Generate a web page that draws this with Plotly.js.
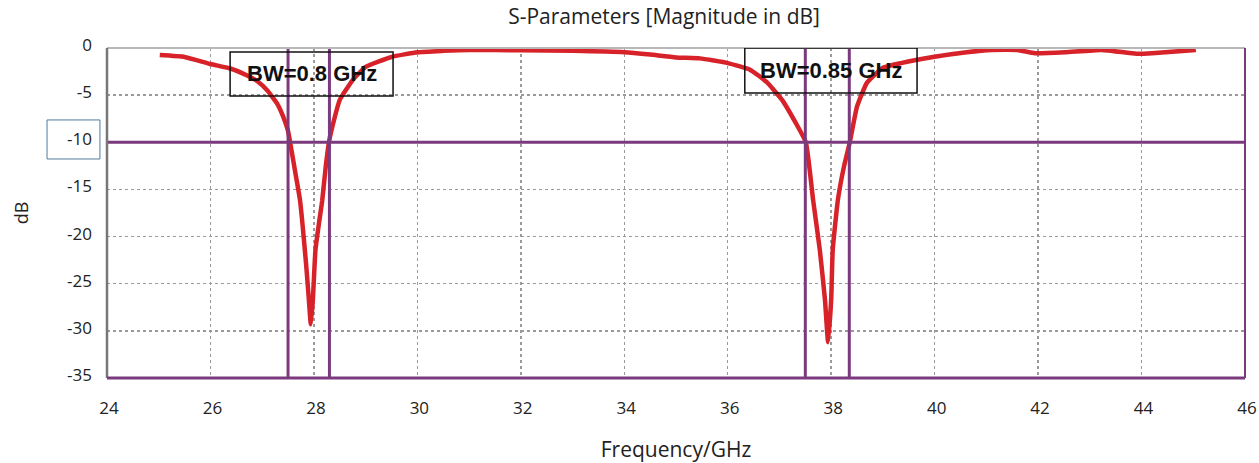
<!DOCTYPE html>
<html>
<head>
<meta charset="utf-8">
<script src="https://cdn.plot.ly/plotly-3.0.1.min.js"></script>
<style>html,body{margin:0;padding:0;background:#fff;}#chart{width:1259px;height:463px;}</style>
</head>
<body>
<div id="chart"></div>
<script>
// Frequency (GHz) and |S11| (dB)
const freqGHz = [25.02, 25.5, 26.0, 26.4, 26.7, 26.9, 27.1, 27.3, 27.4, 27.5, 27.54, 27.65, 27.73, 27.85, 27.9, 27.94,
  27.98, 28.03, 28.1, 28.16, 28.23, 28.29, 28.4, 28.5, 28.75, 29.0, 29.5, 30.0, 30.5, 31.0, 32.0, 33.0, 34.0, 34.5, 35.0,
  35.46, 36.0, 36.43, 36.75, 37.05, 37.32, 37.51, 37.65, 37.78, 37.88, 37.94,
  38.0, 38.03, 38.13, 38.25, 38.36, 38.5, 38.69, 39.0, 39.35, 39.97, 40.62, 41.1, 41.6, 41.94, 42.52, 43.23, 43.9, 44.2, 45.05];
const s11dB = [-0.75, -0.95, -1.7, -2.2, -2.9, -3.5, -4.5, -6.0, -7.2, -8.8, -10, -13.5, -16.1, -23, -26.5, -29.3,
  -26.7, -21.4, -18.5, -16.2, -12.5, -10, -7.4, -5.5, -3.4, -2.0, -0.95, -0.45, -0.3, -0.2, -0.25, -0.3, -0.45, -0.7, -1.0,
  -1.1, -1.6, -2.3, -3.6, -5.5, -8.0, -10, -16.1, -21.4, -26.7, -31.2,
  -26.7, -21.4, -16.1, -12.5, -10, -6.2, -3.7, -2.1, -1.6, -0.95, -0.45, -0.2, -0.2, -0.55, -0.45, -0.2, -0.6, -0.55, -0.2];

const xTicks = [24, 26, 28, 30, 32, 34, 36, 38, 40, 42, 44, 46];
const yTicks = [0, -5, -10, -15, -20, -25, -30, -35];
const threshold = -10;
const band1Edges = [27.5, 28.3];
const band2Edges = [37.5, 38.35];
const bwLabels = ["BW=0.8 GHz", "BW=0.85 GHz"];
const bwBoxes = [[26.38, 29.53, -0.42, -5.09], [36.33, 39.66, 0, -4.77]];

const purple = '#7b3a7e';
const shapes = [];
// -10 dB line
shapes.push({type:'line', xref:'paper', x0:0, x1:1, yref:'y', y0:threshold, y1:threshold, line:{color:purple, width:3}});
// band edge lines
band1Edges.concat(band2Edges).forEach(f => {
  shapes.push({type:'line', xref:'x', x0:f, x1:f, yref:'paper', y0:0, y1:1, line:{color:purple, width:3}});
});
// frame
shapes.push({type:'line', xref:'paper', x0:0, x1:1, yref:'paper', y0:1, y1:1, line:{color:'#b8b8b8', width:2}});
shapes.push({type:'line', xref:'paper', x0:0, x1:0, yref:'paper', y0:0, y1:1, line:{color:'#777', width:2.5}});
shapes.push({type:'line', xref:'paper', x0:1, x1:1, yref:'paper', y0:0, y1:1, line:{color:purple, width:2}});
shapes.push({type:'line', xref:'paper', x0:0, x1:1, yref:'paper', y0:0, y1:0, line:{color:purple, width:3}});
// boxes around BW labels
bwBoxes.forEach(b => {
  shapes.push({type:'rect', xref:'x', yref:'y', x0:b[0], x1:b[1], y0:b[2], y1:b[3], line:{color:'#111', width:1.5}, fillcolor:'rgba(0,0,0,0)'});
});
// box around the -10 tick label
shapes.push({type:'rect', xref:'paper', x0:-0.0527, x1:-0.0062, yref:'y', y0:-7.63, y1:-11.77, line:{color:'#4f7a9c', width:1}, fillcolor:'rgba(0,0,0,0)'});

const annotations = bwLabels.map((t, i) => ({
  x: (bwBoxes[i][0] + bwBoxes[i][1]) / 2, y: (bwBoxes[i][2] + bwBoxes[i][3]) / 2,
  xref:'x', yref:'y', text:'<b>' + t + '</b>', showarrow:false,
  font:{family:'Liberation Sans, Arial, sans-serif', size:22, color:'#111'}
}));

const trace = {x: freqGHz, y: s11dB, type:'scatter', mode:'lines',
  line:{color:'#d62228', width:4.5, shape:'spline', smoothing:0.4}, hoverinfo:'skip'};

const tickFont = {family:'Open Sans, sans-serif', size:17, color:'#222'};
const layout = {
  width:1259, height:463,
  margin:{l:107, r:14, t:48, b:85},
  paper_bgcolor:'#fff', plot_bgcolor:'#fff',
  showlegend:false,
  title:{text:'S-Parameters [Magnitude in dB]', xref:'paper', x:0.4895, xanchor:'center', y:0.963, yanchor:'middle',
    font:{family:'Open Sans, sans-serif', size:21, color:'#222'}},
  xaxis:{range:[24,46], tickvals:xTicks, ticktext:xTicks.map(String), showgrid:true, gridcolor:'#9a9a9a', gridwidth:1.5, griddash:'dot',
    zeroline:false, showline:false, ticks:'', tickfont:tickFont, ticklabelshift:2, ticklabelstandoff:18,
    title:{text:'Frequency/GHz', font:{family:'Open Sans, sans-serif', size:21, color:'#222'}, standoff:26}},
  yaxis:{range:[-35,0], tickvals:yTicks, ticktext:yTicks.map(String), showgrid:true, gridcolor:'#9a9a9a', gridwidth:1.5, griddash:'dot',
    zeroline:false, showline:false, ticks:'', tickfont:tickFont, ticklabelstandoff:14, ticklabelshift:-3,
    title:{text:'dB', font:{family:'Open Sans, sans-serif', size:18, color:'#222'}, standoff:33}},
  shapes: shapes,
  annotations: annotations
};
Plotly.newPlot('chart', [trace], layout, {staticPlot:true, displayModeBar:false});
</script>
</body>
</html>
